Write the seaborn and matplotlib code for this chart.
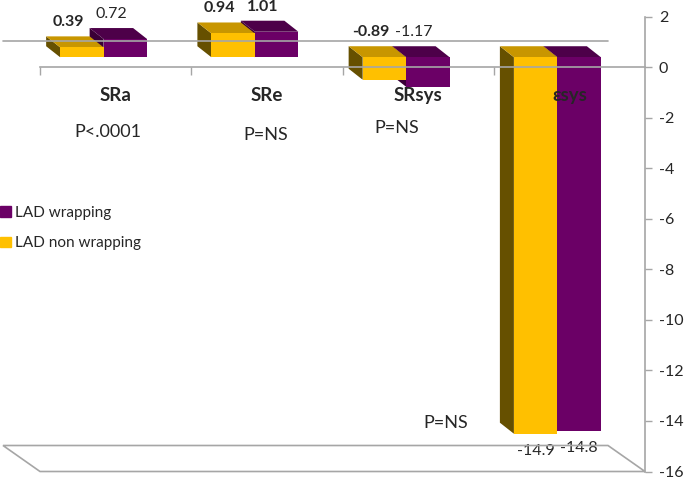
import matplotlib
matplotlib.use('Agg')
import numpy as np
import pandas as pd
import matplotlib.pyplot as plt
import seaborn as sns
from matplotlib.patches import Polygon, Patch
from matplotlib.transforms import offset_copy, IdentityTransform

# values
categories = ['SRa', 'SRe', 'SRsys', 'εsys']
non_wrapping = [0.39, 0.94, -0.89, -14.9]
wrapping = [0.72, 1.01, -1.17, -14.8]
p_values = ['P<.0001', 'P=NS', 'P=NS', 'P=NS']
groups = ['LAD non wrapping', 'LAD wrapping']
y_ticks = list(range(-16, 3, 2))

# which value labels are bold in the original
non_wrapping_bold = [True, True, True, False]
wrapping_bold = [False, True, False, False]

yellow, yellow_top, yellow_side = '#FFC000', '#C89600', '#665000'
purple, purple_top, purple_side = '#6B0066', '#4D0049', '#3A0036'
gray = '#A6A6A6'

sns.set_style('white')
plt.rcParams['font.family'] = ['Lato', 'DejaVu Sans']
plt.rcParams['axes.unicode_minus'] = False

fig = plt.figure(figsize=(6.85, 4.8), dpi=100)
ax = fig.add_axes([40 / 685, 1 - 471.5 / 480, 605 / 685, (471.5 - 16.7) / 480])

df = pd.DataFrame({
    'param': categories * 2,
    'value': non_wrapping + wrapping,
    'group': [groups[0]] * len(categories) + [groups[1]] * len(categories),
})

sns.barplot(data=df, x='param', y='value', hue='group', hue_order=groups,
            order=categories, palette={groups[0]: yellow, groups[1]: purple},
            width=0.575, saturation=1, linewidth=0, errorbar=None,
            legend=False, ax=ax)

ax.set_xlim(-0.5, 3.5)
ax.set_ylim(-16, 2)
ax.set_xlabel('')
ax.set_ylabel('')
ax.set_axisbelow(False)

# axes styling: value axis on the right, category axis at zero
ax.yaxis.tick_right()
ax.set_yticks(y_ticks)
ax.tick_params(axis='y', which='major', right=True, left=False, length=5,
               color=gray, width=1, labelsize=11.5, pad=5)
for s in ['left', 'top']:
    ax.spines[s].set_visible(False)
ax.spines['right'].set_color(gray)
ax.spines['bottom'].set_color(gray)
ax.spines['bottom'].set_position(('data', 0))
ax.spines['right'].set_linewidth(1.2)
ax.spines['bottom'].set_linewidth(1.2)

ax.set_xticks(range(len(categories)))
ax.set_xticklabels(categories, fontweight='bold', fontsize=13.5)
ax.set_xticks(np.arange(-0.5, len(categories) - 1, 1), minor=True)
ax.tick_params(axis='x', which='major', bottom=True, length=0, pad=14)
ax.tick_params(axis='x', which='minor', bottom=True, length=6, color=gray, width=1)

# fake 3D: shift front faces, then add top and side faces
shift = (-12, 10)
depth = (-14, 11)
front_trans = offset_copy(ax.transData, fig=fig, x=shift[0], y=shift[1], units='dots')
face_colors = [(yellow_top, yellow_side), (purple_top, purple_side)]
z_base = [1.2, 1.0]
for cont, (top_c, side_c), zb in zip(ax.containers, face_colors, z_base):
    for p in cont:
        p.set_transform(front_trans)
        p.set_zorder(zb + 0.1)
        x, y, w, h = p.get_x(), p.get_y(), p.get_width(), p.get_height()
        (x0, ya), (x1, yb) = front_trans.transform([(x, y), (x + w, y + h)])
        y0, y1 = min(ya, yb), max(ya, yb)
        dx, dy = depth
        top = Polygon([(x0, y1), (x1, y1), (x1 + dx, y1 + dy), (x0 + dx, y1 + dy)],
                      closed=True, facecolor=top_c, edgecolor='none',
                      transform=IdentityTransform(), clip_on=False, zorder=zb)
        side = Polygon([(x0, y0), (x0, y1), (x0 + dx, y1 + dy), (x0 + dx, y0 + dy)],
                       closed=True, facecolor=side_c, edgecolor='none',
                       transform=IdentityTransform(), clip_on=False, zorder=zb)
        ax.add_artist(side)
        ax.add_artist(top)

# value labels
for cont, vals, bolds in zip(ax.containers, [non_wrapping, wrapping],
                             [non_wrapping_bold, wrapping_bold]):
    for p, v, b in zip(cont, vals, bolds):
        xc = p.get_x() + p.get_width() / 2
        weight = 'bold' if b else 'normal'
        if v < -5:
            ax.annotate(f'{v:g}', (xc, v), xytext=(shift[0], 0),
                        textcoords='offset pixels', ha='center', va='top',
                        fontsize=11.5, fontweight=weight)
        else:
            ax.annotate(f'{v:g}', (xc, max(v, 0)),
                        xytext=(shift[0] + depth[0], shift[1] + depth[1] + 7),
                        textcoords='offset pixels', ha='center', va='bottom',
                        fontsize=11.5, fontweight=weight)

# p-value notes
p_pos = [(-0.05, -2.58), (0.99, -2.70), (1.86, -2.42), (2.18, -14.1)]
for txt, (px, py) in zip(p_values, p_pos):
    ax.text(px, py, txt, ha='center', va='center', fontsize=13, zorder=3)

# back wall zero line and floor outline
back = (-37, 26)
(lx, zy), (rx, _) = ax.transData.transform([(-0.5, 0), (3.5, 0)])
_, fy = ax.transData.transform((0, -16))
fig.add_artist(plt.Line2D([lx + back[0], rx + back[0]], [zy + back[1]] * 2,
                          color=gray, lw=1.2, transform=IdentityTransform()))
fig.add_artist(Polygon([(lx, fy), (rx, fy), (rx + back[0], fy + back[1]),
                        (lx + back[0], fy + back[1])], closed=True,
                       facecolor='none', edgecolor=gray, lw=1.2,
                       transform=IdentityTransform()))

handles = [Patch(color=purple), Patch(color=yellow)]
fig.legend(handles=handles, labels=['LAD wrapping', 'LAD non wrapping'],
           loc='center left', bbox_to_anchor=(0.0, 1 - 228 / 480), frameon=False,
           handlelength=0.7, handleheight=0.7, handletextpad=0.3,
           labelspacing=1.1, fontsize=11, borderaxespad=0, borderpad=0)

fig.savefig('out.png', dpi=100)
